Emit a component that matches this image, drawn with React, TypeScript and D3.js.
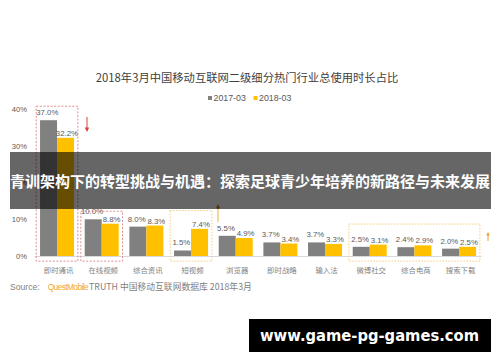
import React from 'react';
import * as d3 from 'd3';

const categories = ['即时通讯', '在线视频', '综合资讯', '短视频', '浏览器', '即时战略', '输入法', '微博社交', '综合电商', '搜索下载'];
const values2017 = [37.0, 10.0, 8.0, 1.5, 5.5, 3.7, 3.7, 2.5, 2.4, 2.0];
const values2018 = [32.2, 8.8, 8.3, 7.4, 4.9, 3.4, 3.3, 3.1, 2.9, 2.5];
const seriesNames = ['2017-03', '2018-03'];
const yTicks = [0, 10, 20, 30, 40];

const W = 500;
const H = 362;
const COLORS = ['#808080', '#FFC000'];
const LATIN = '"Liberation Sans", Arial, "Noto Sans CJK SC", sans-serif';
const CJK = '"Noto Sans CJK SC", "Liberation Sans", sans-serif';

export default function App() {
  const x = d3.scaleBand<string>().domain(categories).range([34.7, 481.4]).padding(0);
  const bw = x.bandwidth();
  const inner = d3.scaleBand<string>().domain(seriesNames).range([(bw - 34) / 2, (bw + 34) / 2]).padding(0);
  const y = d3.scaleLinear().domain([0, 40]).range([256, 109.2]);
  const series = [values2017, values2018];
  const labelOffset = [5, 2];
  const labelShift = [-1.2, 1.4];
  const fmt = d3.format('.1f');

  const cx = (i: number) => (x(categories[i]) as number) + bw / 2;
  const box = (i0: number, i1: number, top: number) => ({
    x: (x(categories[i0]) as number) + 1.5,
    w: (x(categories[i1]) as number) + bw - 1.5 - ((x(categories[i0]) as number) + 1.5),
    y: y(top),
    h: y(-1.4) - y(top),
  });
  const b1 = box(0, 0, 40.8);
  const b2 = box(1, 1, 12.2);
  const b3 = box(3, 3, 12.4);
  const b4 = box(7, 9, 8.7);

  return (
    <svg width={W} height={H} style={{ position: 'absolute', left: 0, top: 0, display: 'block', background: '#fff' }}>
      <rect x={0} y={0} width={W} height={H} fill="#fff" />
      <text x={247} y={82} textAnchor="middle" fontFamily={CJK} fontSize={11.3} fill="#404040">
        2018年3月中国移动互联网二级细分热门行业总使用时长占比
      </text>
      {/* legend */}
      <g fontFamily={LATIN} fontSize={8.8} fill="#595959">
        <rect x={208} y={96} width={4} height={4} fill={COLORS[0]} />
        <text x={213.5} y={101.3}>{seriesNames[0]}</text>
        <rect x={253.5} y={96} width={4} height={4} fill={COLORS[1]} />
        <text x={259} y={101.3}>{seriesNames[1]}</text>
      </g>
      {/* y axis labels */}
      <g fontFamily={LATIN} fontSize={7.6} fill="#595959" textAnchor="end">
        {yTicks.map((t) => (
          <text key={t} x={27} y={y(t) + 2.8}>{t}%</text>
        ))}
      </g>
      <line x1={34.7} x2={481.4} y1={y(0) + 0.5} y2={y(0) + 0.5} stroke="#d9d9d9" strokeWidth={1} />
      {/* bars */}
      {series.map((vals, s) => (
        <g key={s}>
          {vals.map((v, i) => (
            <rect
              key={i}
              x={(x(categories[i]) as number) + (inner(seriesNames[s]) as number)}
              y={y(v)}
              width={inner.bandwidth()}
              height={y(0) - y(v)}
              fill={COLORS[s]}
            />
          ))}
        </g>
      ))}
      {/* value labels */}
      <g fontFamily={LATIN} fontSize={7.8} fill="#595959" textAnchor="middle">
        {series.map((vals, s) =>
          vals.map((v, i) => (
            <text
              key={`${s}-${i}`}
              x={(x(categories[i]) as number) + (inner(seriesNames[s]) as number) + inner.bandwidth() / 2 + labelShift[s]}
              y={y(v) - labelOffset[s]}
            >
              {fmt(v)}%
            </text>
          ))
        )}
      </g>
      {/* category labels */}
      <g fontFamily={CJK} fontSize={7.4} fill="#7f7f7f" textAnchor="middle">
        {categories.map((c, i) => (
          <text key={c} x={cx(i) + 1.5} y={273}>{c}</text>
        ))}
      </g>
      {/* annotation boxes */}
      <g fill="none" strokeWidth={0.9}>
        <rect x={b1.x} y={b1.y} width={b1.w} height={b1.h} stroke="#d98282" strokeDasharray="2,1.6" />
        <rect x={b2.x} y={b2.y} width={b2.w} height={b2.h} stroke="#d98282" strokeDasharray="2,1.6" />
        <rect x={b3.x} y={b3.y} width={b3.w} height={b3.h} stroke="#f0c870" strokeDasharray="1.5,1.5" />
        <rect x={b4.x} y={b4.y} width={b4.w} height={b4.h} stroke="#f0c870" strokeDasharray="1.5,1.5" />
      </g>
      {/* arrows */}
      <line x1={87} x2={87} y1={117} y2={128} stroke="#e03c3c" strokeWidth={1} />
      <path d="M84.8,127.5 L89.2,127.5 L87,132 Z" fill="#e03c3c" />
      <line x1={218} x2={218} y1={222} y2={208} stroke="#e8b040" strokeWidth={1} />
      <path d="M215.8,208.5 L220.2,208.5 L218,204 Z" fill="#c08020" />
      <line x1={488} x2={488} y1={241} y2={235} stroke="#f0a030" strokeWidth={1} />
      <path d="M486.2,235.5 L489.8,235.5 L488,232 Z" fill="#f0a030" />
      {/* source */}
      <text x={10} y={289.5} fontFamily={LATIN} fontSize={8.6} fill="#7f7f7f">
        Source:
        <tspan dx={8} fill="#f0a830" fontSize={8.4} letterSpacing={-0.6}>QuestMobile</tspan>
        <tspan dx={1} fontFamily={CJK} fontSize={8.8}>TRUTH 中国移动互联网数据库 2018年3月</tspan>
      </text>
      {/* banner overlay */}
      <rect x={10} y={152} width={481} height={57} fill="#000" fillOpacity={0.6} />
      <text x={250} y={186.5} textAnchor="middle" fontFamily={CJK} fontWeight="bold" fontSize={15} fill="#fff">
        青训架构下的转型挑战与机遇：探索足球青少年培养的新路径与未来发展
      </text>
      {/* watermark */}
      <rect x={249} y={319} width={242} height={33} fill="#000" />
      <text x={369.5} y={341} textAnchor="middle" fontFamily='"DejaVu Sans", sans-serif' fontWeight="bold" fontSize={15} fill="#fff" textLength={219} lengthAdjust="spacingAndGlyphs">
        www.game-pg-games.com
      </text>
    </svg>
  );
}
